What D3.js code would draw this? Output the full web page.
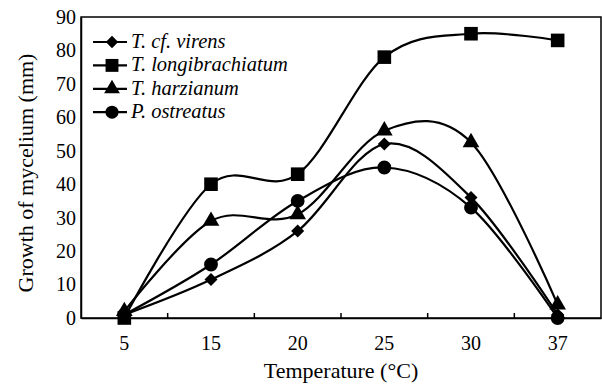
<!DOCTYPE html>
<html>
<head>
<meta charset="utf-8">
<script src="https://cdn.jsdelivr.net/npm/d3@7"></script>
<style>
  html, body { margin: 0; padding: 0; background: #fff; }
</style>
</head>
<body>
<div id="chart"></div>
<script>
const temps = ['5', '15', '20', '25', '30', '37'];
const virens = [1, 11.5, 26, 52, 36, 1];
const longibrachiatum = [0, 40, 43, 78, 85, 83];
const harzianum = [2, 29, 31, 56, 52.5, 4];
const ostreatus = [1, 16, 35, 45, 33, 0];
const yTicks = [0, 10, 20, 30, 40, 50, 60, 70, 80, 90];

const FONT = 'Liberation Serif';

// rotated-square diamond
const diamond = {
  draw(ctx, size) {
    const r = Math.sqrt(size / 2);
    ctx.moveTo(0, -r); ctx.lineTo(r, 0); ctx.lineTo(0, r); ctx.lineTo(-r, 0); ctx.closePath();
  }
};

const series = [
  { name: 'T. cf. virens', values: virens, symbol: diamond, size: 85 },
  { name: 'T. longibrachiatum', values: longibrachiatum, symbol: d3.symbolSquare, size: 185 },
  { name: 'T. harzianum', values: harzianum, symbol: d3.symbolTriangle, size: 120 },
  { name: 'P. ostreatus', values: ostreatus, symbol: d3.symbolCircle, size: 150 }
];

const W = 602, H = 387;
const margin = { top: 17, right: 1, bottom: 69, left: 81 };
const width = W - margin.left - margin.right;
const height = H - margin.top - margin.bottom;

const svg = d3.select('#chart').append('svg')
  .attr('width', W)
  .attr('height', H)
  .attr('font-family', FONT);

const g = svg.append('g')
  .attr('transform', `translate(${margin.left},${margin.top})`);

const x = d3.scaleBand().domain(temps).range([0, width]);
const y = d3.scaleLinear().domain([0, 90]).range([height, 0]);

// frame
g.append('rect')
  .attr('width', width).attr('height', height)
  .attr('fill', 'none').attr('stroke', '#000').attr('stroke-width', 1.5);

// x axis: ticks between categories, pointing inward
const xAxis = g.append('g')
  .attr('transform', `translate(0,${height})`)
  .call(d3.axisBottom(x).tickSize(0).tickPadding(18))
  .attr('font-family', FONT);
xAxis.select('.domain').attr('stroke-width', 1.5);
xAxis.selectAll('text').attr('font-size', 20).attr('font-family', FONT).attr('fill', '#000');
g.selectAll('.xsep')
  .data(temps.slice(1))
  .enter().append('line')
  .attr('x1', d => x(d)).attr('x2', d => x(d))
  .attr('y1', height).attr('y2', height - 5)
  .attr('stroke', '#000').attr('stroke-width', 1.5);

// y axis
const yAxis = g.append('g')
  .call(d3.axisLeft(y).tickValues(yTicks).tickSize(0).tickPadding(5))
  .attr('font-family', FONT);
yAxis.select('.domain').attr('stroke-width', 1.5);
yAxis.selectAll('text').attr('font-size', 20).attr('font-family', FONT).attr('fill', '#000');

// axis titles
svg.append('text')
  .attr('x', 341).attr('y', 378)
  .attr('text-anchor', 'middle')
  .attr('font-family', FONT)
  .attr('font-size', 22)
  .text('Temperature (°C)');

svg.append('text')
  .attr('transform', 'translate(33,173) rotate(-90)')
  .attr('text-anchor', 'middle')
  .attr('font-family', FONT)
  .attr('font-size', 22)
  .text('Growth of mycelium (mm)');

// lines
const line = d3.line()
  .x((d, i) => x(temps[i]) + x.bandwidth() / 2)
  .y(d => y(d))
  .curve(d3.curveCardinal.tension(0));

series.forEach(s => {
  g.append('path')
    .datum(s.values)
    .attr('d', line)
    .attr('fill', 'none')
    .attr('stroke', '#000')
    .attr('stroke-width', 2.2);

  g.selectAll(null)
    .data(s.values)
    .enter().append('path')
    .attr('transform', (d, i) => `translate(${x(temps[i]) + x.bandwidth() / 2},${y(d)})`)
    .attr('d', d3.symbol().type(s.symbol).size(s.size))
    .attr('fill', '#000');
});

// legend
const legend = svg.append('g').attr('transform', 'translate(93,42)');
series.forEach((s, i) => {
  const row = legend.append('g').attr('transform', `translate(0,${i * 23.4})`);
  row.append('line')
    .attr('x1', 0).attr('x2', 34)
    .attr('stroke', '#000').attr('stroke-width', 2.2);
  row.append('path')
    .attr('transform', 'translate(19,0)')
    .attr('d', d3.symbol().type(s.symbol).size(s.size * 0.9))
    .attr('fill', '#000');
  row.append('text')
    .attr('x', 38).attr('y', 6)
    .attr('font-family', FONT)
    .attr('font-size', 20.5)
    .attr('font-style', 'italic')
    .text(s.name);
});
</script>
</body>
</html>
